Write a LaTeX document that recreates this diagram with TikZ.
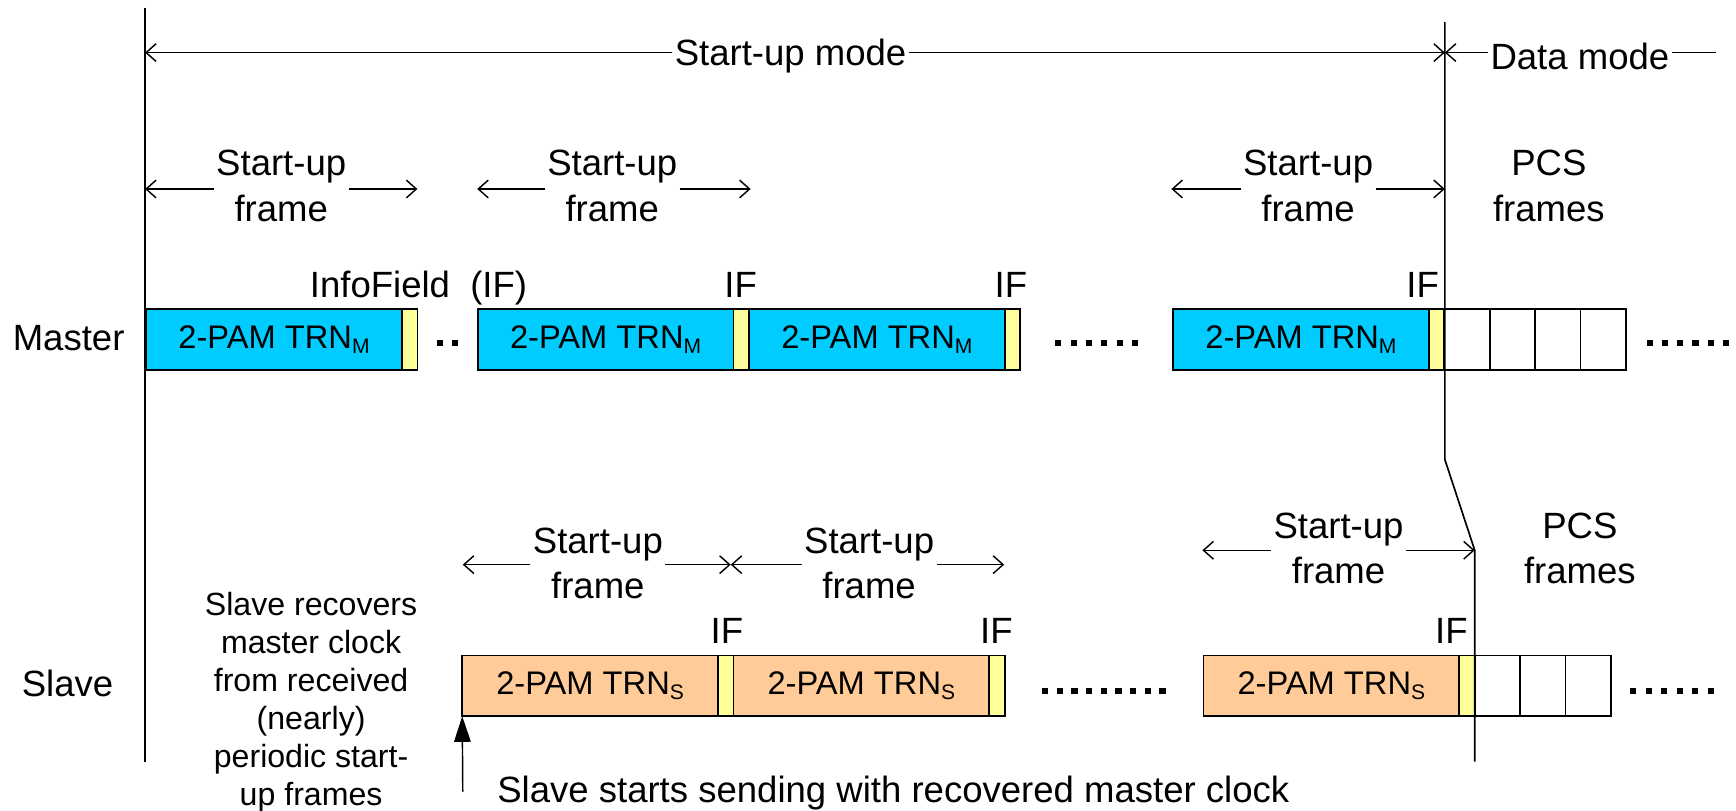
\documentclass[tikz,border=0pt]{standalone}
\usepackage{fontspec}
\setmainfont{Liberation Sans}
\usetikzlibrary{arrows.meta}
\definecolor{cyanbox}{RGB}{0,204,255}
\definecolor{orangebox}{RGB}{255,204,153}
\definecolor{yellowbox}{RGB}{255,255,153}
\newcommand{\mysub}[1]{\raisebox{-4.5pt}{\fontsize{19}{19}\selectfont #1}}
\begin{document}
\begin{tikzpicture}[x=1pt,y=-1pt,
  lbl/.style={font=\fontsize{33}{41}\selectfont, inner xsep=2pt, inner ysep=0pt, align=center},
  iflbl/.style={font=\fontsize{33}{41}\selectfont, inner sep=0pt, anchor=base},
  boxbase/.style={draw, line width=1.6pt, minimum height=55pt, inner sep=0pt, outer sep=0pt, anchor=west},
  mtrn/.style={boxbase, fill=cyanbox, minimum width=231pt, font=\fontsize{29.5}{35}\selectfont},
  strn/.style={boxbase, fill=orangebox, minimum width=231pt, font=\fontsize{29.5}{35}\selectfont},
  ifb/.style={boxbase, fill=yellowbox, minimum width=14pt},
  pcsb/.style={boxbase, fill=white, minimum width=41pt},
  dimline/.style={line width=1.3pt, -{Straight Barb[length=9pt,width=16pt]}},
  thinline/.style={line width=1.3pt},
  timeline/.style={line width=1.5pt},
  dotsq/.style={fill=black, minimum size=5.5pt, inner sep=0pt, outer sep=0pt},
]
\useasboundingbox (0,0) rectangle (1568,732);

% master row
\node[mtrn] (m1) at (132,306.5) {2-PAM TRN\mysub{M}};
\node[ifb] (m1f) at (m1.east) {};
\node[mtrn] (m2) at (431.5,306.5) {2-PAM TRN\mysub{M}};
\node[ifb] (m2f) at (m2.east) {};
\node[mtrn] (m3) at (m2f.east) {2-PAM TRN\mysub{M}};
\node[ifb] (m3f) at (m3.east) {};
\node[mtrn] (m4) at (1059.5,306.5) {2-PAM TRN\mysub{M}};
\node[ifb] (m4f) at (m4.east) {};
\node[pcsb] (mp1) at (m4f.east) {};
\node[pcsb] (mp2) at (mp1.east) {};
\node[pcsb] (mp3) at (mp2.east) {};
\node[pcsb] (mp4) at (mp3.east) {};

% slave row
\node[strn] (s1) at (417.5,619.5) {2-PAM TRN\mysub{S}};
\node[ifb] (s1f) at (s1.east) {};
\node[strn] (s2) at (s1f.east) {2-PAM TRN\mysub{S}};
\node[ifb] (s2f) at (s2.east) {};
\node[strn] (s3) at (1087,619.5) {2-PAM TRN\mysub{S}};
\node[ifb] (s3f) at (s3.east) {};
\node[pcsb] (sp1) at (s3f.east) {};
\node[pcsb] (sp2) at (sp1.east) {};
\node[pcsb] (sp3) at (sp2.east) {};

% dots
\foreach \i in {0,1} \node[dotsq] (mda\i) at ({397.7+13.3*\i},309.4) {};
\foreach \i in {0,...,5} \node[dotsq] (mdb\i) at ({956+13.8*\i},309.4) {};
\foreach \i in {0,...,5} \node[dotsq] (mdc\i) at ({1490+13.8*\i},309.4) {};
\foreach \i in {0,...,8} \node[dotsq] (sda\i) at ({944+13.25*\i},624) {};
\foreach \i in {0,...,5} \node[dotsq] (sdb\i) at ({1475+14*\i},624) {};

% row labels
\node[iflbl] (master) at (62,316.5) {Master};
\node[iflbl] (slave) at (61,629) {Slave};

% IF labels
\node[iflbl] (if1) at (378,269) {InfoField\ \ (IF)};
\node[iflbl] (if2) at (669,269) {IF};
\node[iflbl] (if3) at (913,269) {IF};
\node[iflbl] (if4) at (1285,269) {IF};
\node[iflbl] (if5) at (656.5,581) {IF};
\node[iflbl] (if6) at (900,581) {IF};
\node[iflbl] (if7) at (1311,581) {IF};

% top mode dimension
\coordinate (ml) at (131,47.5);
\coordinate (mm) at (1305,47.5);
\coordinate (mr) at (1550,47.5);
\node[lbl] (sum) at (714,50.8) {Start-up mode};
\node[lbl] (dm) at (1427,50.8) {Data mode};
\draw[dimline] (sum.west |- ml) -- (ml);
\draw[dimline] (sum.east |- mm) -- (mm);
\draw[dimline] (dm.west |- mm) -- (mm);
\draw[thinline] (dm.east |- mr) -- (mr);

% master frame dimensions
\coordinate (fa1) at (131,170.7);
\coordinate (fa2) at (377,170.7);
\node[lbl] (f1) at (254,168) {Start-up\\frame};
\draw[dimline] (f1.west |- fa1) -- (fa1);
\draw[dimline] (f1.east |- fa2) -- (fa2);
\coordinate (fb1) at (431,170.7);
\coordinate (fb2) at (678,170.7);
\node[lbl] (f2) at (553,168) {Start-up\\frame};
\draw[dimline] (f2.west |- fb1) -- (fb1);
\draw[dimline] (f2.east |- fb2) -- (fb2);
\coordinate (fc1) at (1058,170.7);
\coordinate (fc2) at (1305,170.7);
\node[lbl] (f3) at (1181.5,168) {Start-up\\frame};
\draw[dimline] (f3.west |- fc1) -- (fc1);
\draw[dimline] (f3.east |- fc2) -- (fc2);
\node[lbl] (pm) at (1399,168) {PCS\\frames};

% slave frame dimensions
\coordinate (fd1) at (418,510);
\coordinate (fd2) at (660,510);
\coordinate (fd3) at (907,510);
\node[lbl] (f4) at (540,509) {Start-up\\frame};
\draw[dimline] (f4.west |- fd1) -- (fd1);
\draw[dimline] (f4.east |- fd2) -- (fd2);
\node[lbl] (f5) at (785,509) {Start-up\\frame};
\draw[dimline] (f5.west |- fd2) -- (fd2);
\draw[dimline] (f5.east |- fd3) -- (fd3);
\coordinate (fe1) at (1086,497);
\coordinate (fe2) at (1332,497);
\node[lbl] (f6) at (1209,495.5) {Start-up\\frame};
\draw[dimline] (f6.west |- fe1) -- (fe1);
\draw[dimline] (f6.east |- fe2) -- (fe2);
\node[lbl] (ps) at (1427,495.5) {PCS\\frames};

% time lines
\coordinate (lt) at (131,7);
\coordinate (lb) at (131,688);
\draw[timeline] (lt) -- (lb);
\coordinate (bt) at (1305,20);
\coordinate (bk1) at (1305,415);
\coordinate (bb) at (1332,688);
\draw[timeline] (bt) -- (bk1) -- (fe2) -- (bb);

% slave notes
\node[font=\fontsize{29}{34.3}\selectfont, align=center, inner sep=0pt] (rec) at (281,634) {Slave recovers\\master clock\\from received\\(nearly)\\periodic start-\\up frames};
\node[iflbl, anchor=base west] (ss) at (449,724.5) {Slave starts sending with recovered master clock};
\coordinate (sfoot) at (418,715);
\draw[line width=1.3pt, -{Triangle[length=23pt,width=15pt]}] (sfoot) -- (s1.south west);
\end{tikzpicture}
\end{document}
